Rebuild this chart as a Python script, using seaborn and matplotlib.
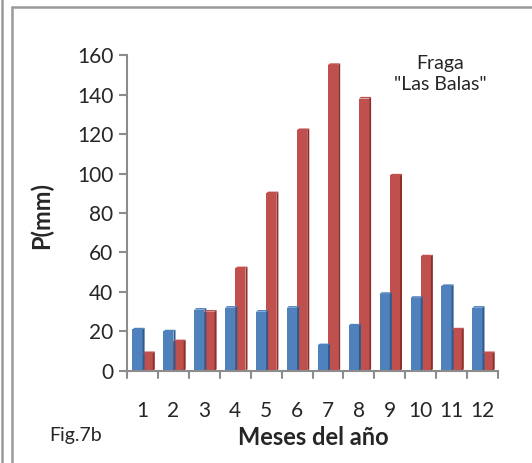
import numpy as np
import pandas as pd
import matplotlib
matplotlib.use("Agg")
import matplotlib.pyplot as plt
import matplotlib.transforms as mtransforms
from matplotlib.patches import Polygon
from matplotlib.lines import Line2D
import seaborn as sns

# Monthly precipitation (mm), two series
months = ["1", "2", "3", "4", "5", "6", "7", "8", "9", "10", "11", "12"]
serie_azul = [21, 20, 31, 32, 30, 32, 13, 23, 39, 37, 43, 32]
serie_roja = [9, 15, 30, 52, 90, 122, 155, 138, 99, 58, 21, 9]
y_ticks = [0, 20, 40, 60, 80, 100, 120, 140, 160]

colors = ["#4F81BD", "#C0504D"]
side_colors = ["#2E5A8E", "#8E2F2C"]

df = pd.DataFrame({
    "mes": months * 2,
    "serie": ["a"] * len(months) + ["b"] * len(months),
    "P": serie_azul + serie_roja,
})

sns.set_theme(style="white")
plt.rcParams["font.family"] = ["Lato", "DejaVu Sans"]

fig = plt.figure(figsize=(5.32, 4.63), dpi=100)
ax = fig.add_axes([0.239, 0.199, 0.697, 0.682])

sns.barplot(data=df, x="mes", y="P", hue="serie", order=months,
            hue_order=["a", "b"], palette=colors, width=0.66,
            saturation=1, legend=False, ax=ax, linewidth=0)

# darker side faces and top faces give the columns some depth
off = mtransforms.ScaledTranslation(2.0 / 100, 1.6 / 100, fig.dpi_scale_trans)
inv = ax.transData.inverted()
for i, cont in enumerate(ax.containers):
    for bar in cont:
        x0, y0 = bar.get_x(), bar.get_y()
        w, h = bar.get_width(), bar.get_height()
        x1 = x0 + w
        front = ax.transData.transform([(x1, y0), (x1, y0 + h)])
        back = (ax.transData + off).transform([(x1, y0 + h), (x1, y0)])
        side = Polygon(inv.transform(np.vstack([front, back])), closed=True,
                       facecolor=side_colors[i], edgecolor="none")
        side.set_clip_on(False)
        ax.add_patch(side)
        tfront = ax.transData.transform([(x0, y0 + h), (x1, y0 + h)])
        tback = (ax.transData + off).transform([(x1, y0 + h), (x0, y0 + h)])
        top = Polygon(inv.transform(np.vstack([tfront, tback])), closed=True,
                      facecolor=colors[i], edgecolor="none")
        top.set_clip_on(False)
        ax.add_patch(top)

ax.set_ylim(0, 160)
ax.set_xlim(-0.5, len(months) - 0.5)
ax.set_yticks(y_ticks)
ax.set_yticklabels([str(v) for v in y_ticks], fontsize=15)
ax.set_xticks(range(len(months)))
ax.set_xticklabels(months, fontsize=15)
ax.tick_params(axis="x", length=0, pad=22)
ax.tick_params(axis="y", length=6, width=1.5, color="#8C8C8C", pad=4,
               direction="out", left=True)

# tick marks between categories on the floor
for k in range(len(months) + 1):
    ax.plot([k - 0.5, k - 0.5], [0, -3.5], color="#8C8C8C", lw=1.5,
            clip_on=False)

for s in ["top", "right"]:
    ax.spines[s].set_visible(False)
for s in ["left", "bottom"]:
    ax.spines[s].set_color("#8C8C8C")
    ax.spines[s].set_linewidth(1.5)

ax.set_xlabel("")
ax.set_ylabel("")

fig.text(0.077, 0.535, "P(mm)", rotation=90, fontsize=17, fontweight="bold",
         ha="center", va="center")
fig.text(0.588, 0.054, "Meses del año", fontsize=17, fontweight="bold",
         ha="center", va="center")
fig.text(0.142, 0.06, "Fig.7b", fontsize=14, ha="center", va="center")
fig.text(0.827, 0.862, "Fraga", fontsize=14, ha="center", va="center")
fig.text(0.827, 0.818, "\"Las Balas\"", fontsize=14, ha="center", va="center")

# page frame
W, H = 532, 463
fig.add_artist(Line2D([2 / W, 2 / W], [0, 1], color="#9A9A9A", lw=1.8))
fig.add_artist(Line2D([11.5 / W, 11.5 / W], [0, 1 - 7 / H], color="#9A9A9A", lw=1.8))
fig.add_artist(Line2D([11.5 / W, 1], [1 - 7 / H, 1 - 7 / H], color="#9A9A9A", lw=1.8))

fig.savefig("out.png", dpi=100)
